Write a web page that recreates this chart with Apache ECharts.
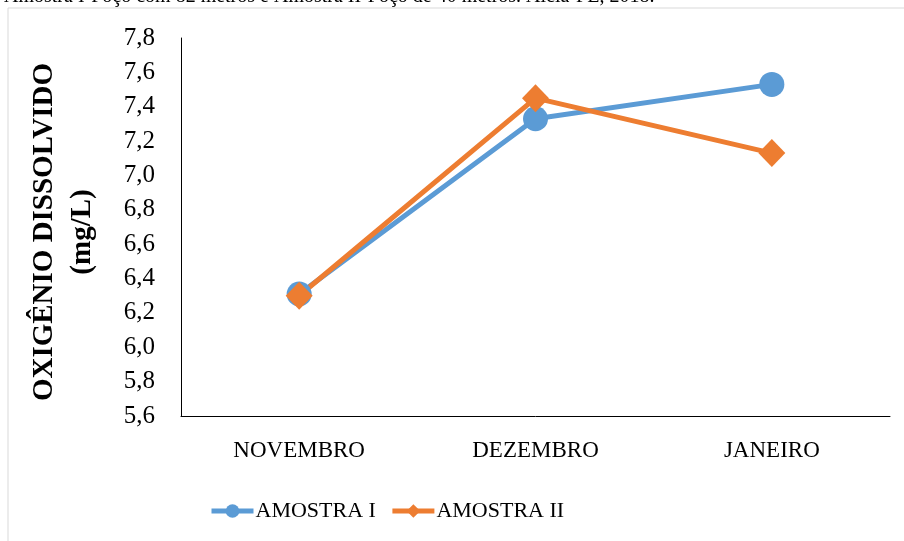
<!DOCTYPE html>
<html>
<head>
<meta charset="utf-8">
<script src="https://cdn.jsdelivr.net/npm/echarts@6/dist/echarts.min.js"></script>
<style>
  html, body { margin: 0; padding: 0; background: #fff; }
  #chart { width: 904px; height: 541px; }
</style>
</head>
<body>
<div id="chart"></div>
<script>
var meses = ['NOVEMBRO', 'DEZEMBRO', 'JANEIRO'];
var amostraI = [6.31, 7.33, 7.53];
var amostraII = [6.30, 7.45, 7.13];
var yTicks = { min: 5.6, max: 7.8, step: 0.2 };
var legenda = ['AMOSTRA I', 'AMOSTRA II'];
var legenda_titulo = 'Amostra I-Poço com 82 metros e Amostra II-Poço de 40 metros. Alcia-PE, 2018.';

var fonte = '"Liberation Serif", "Times New Roman", serif';
var chart = echarts.init(document.getElementById('chart'));

var option = {
    animation: false,
    textStyle: { fontFamily: fonte, color: '#000' },
    graphic: [
        {
            type: 'rect',
            shape: { x: 8, y: 8, width: 1000, height: 1000 },
            style: { fill: 'none', stroke: '#d9d9d9', lineWidth: 1 },
            silent: true
        },
        {
            type: 'text',
            left: 4,
            top: -13,
            style: {
                text: legenda_titulo,
                font: '20px ' + fonte,
                fill: '#000'
            },
            silent: true
        }
    ],
    grid: { left: 181, right: 14, top: 38, bottom: 125, containLabel: false },
    legend: {
        data: legenda,
        left: 204,
        top: 495,
        itemWidth: 42,
        itemHeight: 17,
        itemGap: 14,
        lineStyle: { width: 5 },
        textStyle: { fontFamily: fonte, fontSize: 22, color: '#000', padding: [0, 0, 0, -3] }
    },
    xAxis: {
        type: 'category',
        data: meses,
        axisLine: { lineStyle: { color: '#000', width: 1 } },
        axisTick: { show: false },
        axisLabel: { fontFamily: fonte, fontSize: 23, color: '#000', margin: 23 }
    },
    yAxis: {
        type: 'value',
        min: yTicks.min,
        max: yTicks.max,
        interval: yTicks.step,
        name: 'OXIGÊNIO DISSOLVIDO\n(mg/L)',
        nameLocation: 'middle',
        nameRotate: 90,
        nameGap: 79,
        nameTextStyle: { fontFamily: fonte, fontSize: 29, fontWeight: 'bold', color: '#000', lineHeight: 38, padding: [0, 10, 0, 0] },
        axisLine: { show: true, lineStyle: { color: '#000', width: 1 } },
        axisTick: { show: false },
        splitLine: { show: false },
        axisLabel: {
            fontFamily: fonte, fontSize: 25, color: '#000', margin: 26,
            formatter: function (v) { return v.toFixed(1).replace('.', ','); }
        }
    },
    series: [
        {
            name: legenda[0],
            type: 'line',
            data: amostraI,
            symbol: 'circle',
            symbolSize: 25,
            itemStyle: { color: '#5B9BD5' },
            lineStyle: { color: '#5B9BD5', width: 5 }
        },
        {
            name: legenda[1],
            type: 'line',
            data: amostraII,
            symbol: 'diamond',
            symbolSize: [27, 28],
            itemStyle: { color: '#ED7D31' },
            lineStyle: { color: '#ED7D31', width: 5 }
        }
    ]
};
chart.setOption(option);
</script>
</body>
</html>
